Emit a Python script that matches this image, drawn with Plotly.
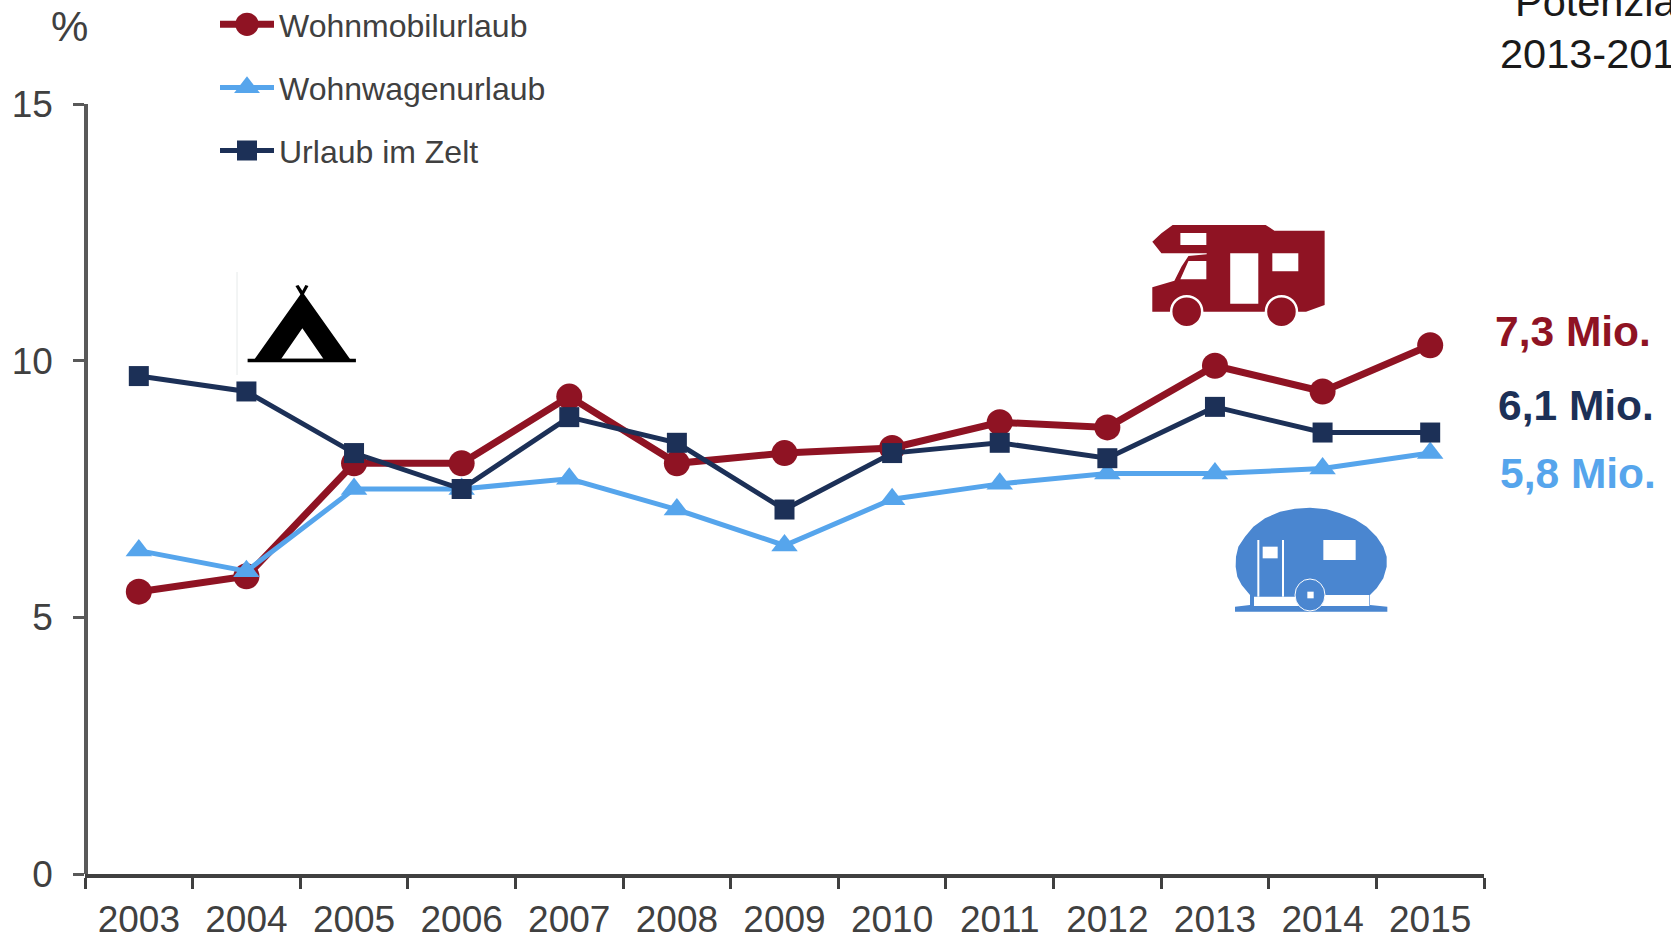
import plotly.graph_objects as go

years = ["2003","2004","2005","2006","2007","2008","2009","2010","2011","2012","2013","2014","2015"]
wohnmobil = [5.5,5.8,8.0,8.0,9.3,8.0,8.2,8.3,8.8,8.7,9.9,9.4,10.3]
wohnwagen = [6.3,5.9,7.5,7.5,7.7,7.1,6.4,7.3,7.6,7.8,7.8,7.9,8.2]
zelt = [9.7,9.4,8.2,7.5,8.9,8.4,7.1,8.2,8.4,8.1,9.1,8.6,8.6]
y_ticks = [0,5,10,15]
RED, BLUE, NAVY, CARAVAN = "#8F1323", "#56A5EC", "#1C3057", "#4A86D0"
TXT = "#404040"

W, H = 1671, 936
L, R, T, B = 85, 1484, 104, 874
px = lambda x: (x-L)/(R-L)
py = lambda y: (B-y)/(B-T)

fig = go.Figure()
fig.add_trace(go.Scatter(x=years,y=wohnmobil,name="Wohnmobilurlaub",legendgroup="a",mode="lines+markers",
    line=dict(color=RED,width=7),marker=dict(symbol="circle",size=26,color=RED)))
fig.add_trace(go.Scatter(x=years,y=wohnwagen,name="Wohnwagenurlaub",legendgroup="b",mode="lines+markers",
    line=dict(color=BLUE,width=5),marker=dict(symbol="triangle-up",size=23,color=BLUE)))
fig.add_trace(go.Scatter(x=years,y=zelt,name="Urlaub im Zelt",legendgroup="c",mode="lines+markers",
    line=dict(color=NAVY,width=5),marker=dict(symbol="square",size=20,color=NAVY)))

shapes=[]
def poly(points, fx, fy, color):
    d="M"+" L".join(f"{px(fx(a)):.5f},{py(fy(b)):.5f}" for a,b in points)+" Z"
    return d
def add_path(d,color):
    shapes.append(dict(type="path",xref="paper",yref="paper",path=d,fillcolor=color,line=dict(width=0)))
def add_ell(cx,cy,rx,ry,color,lw=0,lc="white"):
    shapes.append(dict(type="circle",xref="paper",yref="paper",x0=px(cx-rx),x1=px(cx+rx),y0=py(cy+ry),y1=py(cy-ry),
                       fillcolor=color,line=dict(width=lw,color=lc)))
def rect(a,b,c,d): return [(a,b),(c,b),(c,d),(a,d)]

# camper icon
fx=lambda v:1120+v*0.351; fy=lambda v:v/3
outer=[(150,675),(415,675),(440,692),(583,692),(583,915),(530,935),(92,935),(92,862),(155,842),(175,800),(195,768),(247,763),(247,760),(118,760),(92,725),(118,700)]
d=poly(outer,fx,fy,RED)
for h in [[(172,838),(195,783),(246,783),(246,838)],rect(172,699,246,735),rect(314,760,394,911),rect(434,760,508,814)]:
    d+=" "+poly(h,fx,fy,RED)
add_path(d,RED)
for c in (190,460):
    add_ell(fx(c),fy(935),15.5,15.5,RED,2.5,"white")

# tent icon
fx=lambda v:v*0.3827; fy=lambda v:v/3
shapes.append(dict(type="line",xref="paper",yref="paper",x0=px(237),x1=px(237),y0=py(272),y1=py(375),line=dict(color="#E6EAEA",width=1)))
d=poly([(665,1078),(790,875),(915,1078)],fx,fy,"black")+" "+poly([(735,1076),(790,985),(845,1076)],fx,fy,"black")
add_path(d,"black")
add_path(poly(rect(647,1076,930,1087),fx,fy,"black"),"black")
add_path(poly([(772,858),(780,855),(790,872),(798,855),(806,858),(793,885),(786,885)],fx,fy,"black"),"black")

# caravan icon
fx=lambda v:1200+v/3; fy=lambda v:340+v/3
blob=[(330,503),(380,508),(420,520),(465,538),(500,560),(530,590),(550,620),(560,650),(560,680),(550,715),(530,745),(510,765),(510,795),(562,800),(562,815),(105,815),(105,800),(150,795),(150,765),(125,735),(112,710),(107,680),(108,650),(115,620),(135,590),(160,560),(195,535),(240,515),(285,506)]
add_path(poly(blob,fx,fy,CARAVAN),CARAVAN)
for r_ in [rect(370,600,467,660),rect(172,600,178,770),rect(246,600,252,770),rect(188,620,233,655),rect(162,770,300,798),rect(360,765,508,798)]:
    add_path(poly(r_,fx,fy,"white"),"white")
add_ell(fx(330),fy(765),15,16,CARAVAN,1,"white")
add_path(poly(rect(322,755,341,775),fx,fy,"white"),"white")

def note(text,x,y,size,color,bold=False):
    return dict(text=f"<b>{text}</b>" if bold else text,xref="paper",yref="paper",x=px(x),y=py(y),xanchor="left",yanchor="middle",
                showarrow=False,font=dict(size=size,color=color,family="Liberation Sans"),align="left",borderpad=0)
annotations=[
    note("%",50,27,42,TXT),
    note("Potenzial",1514,1,41.5,"#1A1A1A"),
    note("2013-2015",1499,53,41.5,"#1A1A1A"),
    note("7,3 Mio.",1494,331,42.5,RED,True),
    note("6,1 Mio.",1497,405,42.5,NAVY,True),
    note("5,8 Mio.",1499,473,42.5,BLUE,True),
]

fig.update_layout(
    width=W,height=H,autosize=False,paper_bgcolor="white",plot_bgcolor="white",
    margin=dict(l=L,r=W-R,t=T,b=H-B,pad=0,autoexpand=False),
    font=dict(family="Liberation Sans",color=TXT),
    xaxis=dict(type="category",categoryorder="array",categoryarray=years,range=[-0.5,12.5],tickson="boundaries",
               ticks="outside",ticklen=11,tickwidth=3,tickcolor="#404040",showline=True,linewidth=3.5,linecolor="#404040",
               showgrid=False,zeroline=False,tickfont=dict(size=37,color=TXT),ticklabelstandoff=10),
    yaxis=dict(range=[0,15],tickvals=y_ticks,ticks="outside",ticklen=11,tickwidth=3,tickcolor="#595959",showline=True,
               linewidth=3.5,linecolor="#595959",showgrid=False,zeroline=False,tickfont=dict(size=37,color=TXT),ticklabelstandoff=13,
               anchor="free",position=0.0007),
    legend=dict(x=px(215),y=py(-3),xanchor="left",yanchor="top",tracegroupgap=18.5,itemwidth=54,itemsizing="trace",
                font=dict(size=32,color=TXT),bgcolor="rgba(0,0,0,0)",borderwidth=0,itemclick=False,itemdoubleclick=False),
    shapes=shapes,annotations=annotations,showlegend=True,
)
post = """
document.body.style.margin='0';document.body.style.overflow='hidden';
var scales=[1.45,1.4,1.25];
document.querySelectorAll('.legend .traces').forEach(function(t,i){
  t.querySelectorAll('.legendpoints path.scatterpts').forEach(function(p){
    p.setAttribute('transform',(p.getAttribute('transform')||'')+' scale('+scales[i]+')');
  });
});
"""
fig.write_html("out.html",config=dict(displayModeBar=False),post_script=post)
